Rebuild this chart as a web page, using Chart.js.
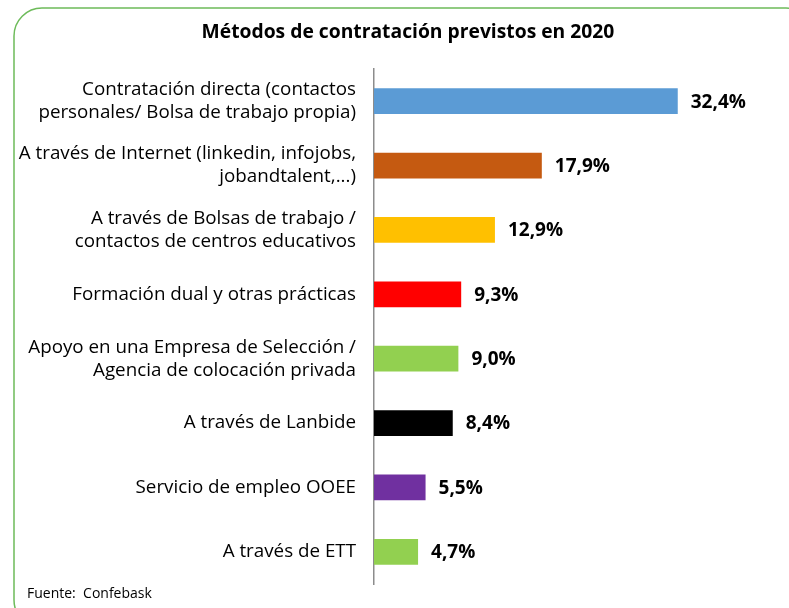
<!DOCTYPE html>
<html>
<head>
<meta charset="utf-8">
<script src="https://cdn.jsdelivr.net/npm/chart.js@4"></script>
<style>
  html, body { margin: 0; padding: 0; background: #fff; }
  #wrap { width: 789px; height: 608px; }
</style>
</head>
<body>
<div id="wrap"><canvas id="hiringChart" width="789" height="608"></canvas></div>
<script>
const chartTitle = 'Métodos de contratación previstos en 2020';
const categories = [
    ['Contratación directa (contactos', 'personales/ Bolsa de trabajo propia)'],
    ['A través de Internet (linkedin, infojobs,', 'jobandtalent,...)'],
    ['A través de Bolsas de trabajo /', 'contactos de centros educativos'],
    'Formación dual y otras prácticas',
    ['Apoyo en una Empresa de Selección /', 'Agencia de colocación privada'],
    'A través de Lanbide',
    'Servicio de empleo OOEE',
    'A través de ETT'
];
const values = [32.4, 17.9, 12.9, 9.3, 9.0, 8.4, 5.5, 4.7];
const barColors = ['#5b9bd5', '#c55a11', '#ffc000', '#ff0000', '#92d050', '#000000', '#7030a0', '#92d050'];

const FONT = '"Open Sans", "Liberation Sans", sans-serif';

// marco verde, título y fuente
const framePlugin = {
    id: 'frame',
    beforeDraw(chart) {
        const c = chart.ctx;
        c.save();
        c.strokeStyle = '#6dbb5a';
        c.lineWidth = 1.5;
        c.beginPath();
        c.roundRect(14, 8, 800, 620, 28);
        c.stroke();
        c.restore();
    },
    afterDraw(chart) {
        const c = chart.ctx;
        c.save();
        c.fillStyle = '#000';
        c.textBaseline = 'middle';
        c.font = 'bold 19.3px ' + FONT;
        c.textAlign = 'center';
        c.fillText(chartTitle, 408, 33);
        c.font = '14px ' + FONT;
        c.textAlign = 'left';
        c.fillText('Fuente:  Confebask', 27, 594);
        c.restore();
    }
};

// etiquetas de valor en negrita
const valueLabels = {
    id: 'valueLabels',
    afterDatasetsDraw(chart) {
        const c = chart.ctx;
        const meta = chart.getDatasetMeta(0);
        c.save();
        c.fillStyle = '#000';
        c.font = 'bold 19px ' + FONT;
        c.textBaseline = 'middle';
        meta.data.forEach((bar, i) => {
            c.fillText(values[i].toFixed(1).replace('.', ',') + '%', bar.x + 13, bar.y + 1);
        });
        c.restore();
    }
};

const ctx = document.getElementById('hiringChart').getContext('2d');
const hiringChart = new Chart(ctx, {
    type: 'bar',
    data: {
        labels: categories,
        datasets: [{
            data: values,
            backgroundColor: barColors,
            barPercentage: 0.4,
            categoryPercentage: 1.0
        }]
    },
    options: {
        indexAxis: 'y',
        responsive: false,
        animation: false,
        layout: {
            padding: { left: 15, right: 40, top: 69, bottom: 24 }
        },
        scales: {
            x: {
                display: false,
                min: 0,
                max: 40
            },
            y: {
                afterFit(scale) {
                    scale.width = 359;
                    scale.paddingTop = 0;
                    scale.paddingBottom = 0;
                },
                grid: { display: true, drawOnChartArea: false, drawTicks: false },
                border: { display: true, color: '#8c8c8c', width: 1.5 },
                ticks: {
                    color: '#000',
                    padding: 18,
                    font: { family: FONT, size: 18.8, lineHeight: 1.22 }
                }
            }
        },
        plugins: {
            legend: { display: false },
            tooltip: { enabled: false },
            title: { display: false }
        }
    },
    plugins: [framePlugin, valueLabels]
});
</script>
</body>
</html>
